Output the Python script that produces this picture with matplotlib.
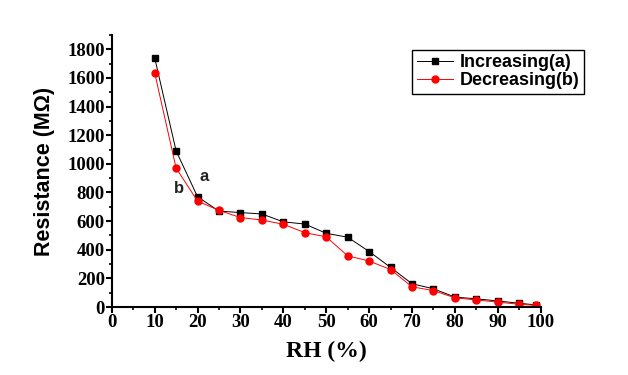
import numpy as np
import matplotlib
matplotlib.use('Agg')
import matplotlib.pyplot as plt
from matplotlib.ticker import MultipleLocator

rh = [10, 15, 20, 25, 30, 35, 40, 45, 50, 55, 60, 65, 70, 75, 80, 85, 90, 95, 99]
res_increasing = [1740, 1090, 770, 670, 660, 650, 595, 580, 515, 488, 388, 277, 163, 128,
                  70, 58, 43, 27, 15]
res_decreasing = [1635, 970, 740, 675, 625, 608, 578, 520, 490, 358, 322, 262, 142, 115,
                  65, 50, 35, 20, 12]
x_ticks = [0, 10, 20, 30, 40, 50, 60, 70, 80, 90, 100]
y_ticks = [0, 200, 400, 600, 800, 1000, 1200, 1400, 1600, 1800]

fig = plt.figure(figsize=(6.28, 3.75), dpi=100)
ax = fig.add_axes([0.178, 0.181, 0.683, 0.726])

ax.plot(rh, res_increasing, color='black', marker='s', markersize=5, linewidth=0.7,
        label='Increasing(a)')
ax.plot(rh, res_decreasing, color='red', marker='o', markersize=5, linewidth=0.7,
        label='Decreasing(b)')

ax.set_xlim(0, 100)
ax.set_ylim(0, 1900)
ax.set_xticks(x_ticks)
ax.set_yticks(y_ticks)
ax.xaxis.set_minor_locator(MultipleLocator(5))
ax.yaxis.set_minor_locator(MultipleLocator(100))

#####only left and bottom axes
ax.spines['top'].set_visible(False)
ax.spines['right'].set_visible(False)
ax.spines['left'].set_linewidth(1.5)
ax.spines['bottom'].set_linewidth(1.5)
ax.tick_params(which='major', direction='out', length=4, width=1.5, pad=1)
ax.tick_params(which='minor', direction='out', length=2, width=1.2)

for lab in ax.get_xticklabels() + ax.get_yticklabels():
    lab.set_fontfamily('Liberation Serif')
    lab.set_fontweight('bold')
    lab.set_fontsize(13.5)

ax.set_xlabel('RH (%)', fontfamily='Liberation Serif', fontweight='bold', fontsize=17,
              labelpad=7)
ax.set_ylabel('Resistance (MΩ)', fontfamily='Liberation Sans', fontweight='bold',
              fontsize=15.5, labelpad=9)

ax.text(20.5, 880, 'a', fontfamily='Liberation Sans', fontweight='bold', fontsize=12,
        color='#222222')
ax.text(14.5, 795, 'b', fontfamily='Liberation Sans', fontweight='bold', fontsize=12,
        color='#222222')

leg = ax.legend(loc='upper right', bbox_to_anchor=(1.1, 0.945), fancybox=False,
                edgecolor='black', framealpha=1, borderpad=0.25, labelspacing=0.05,
                handlelength=2.0, handletextpad=0.35, borderaxespad=0,
                prop={'family': 'Liberation Sans', 'size': 13, 'weight': 'bold'})
leg.get_frame().set_linewidth(1.0)

plt.savefig('out.png', dpi=100)
